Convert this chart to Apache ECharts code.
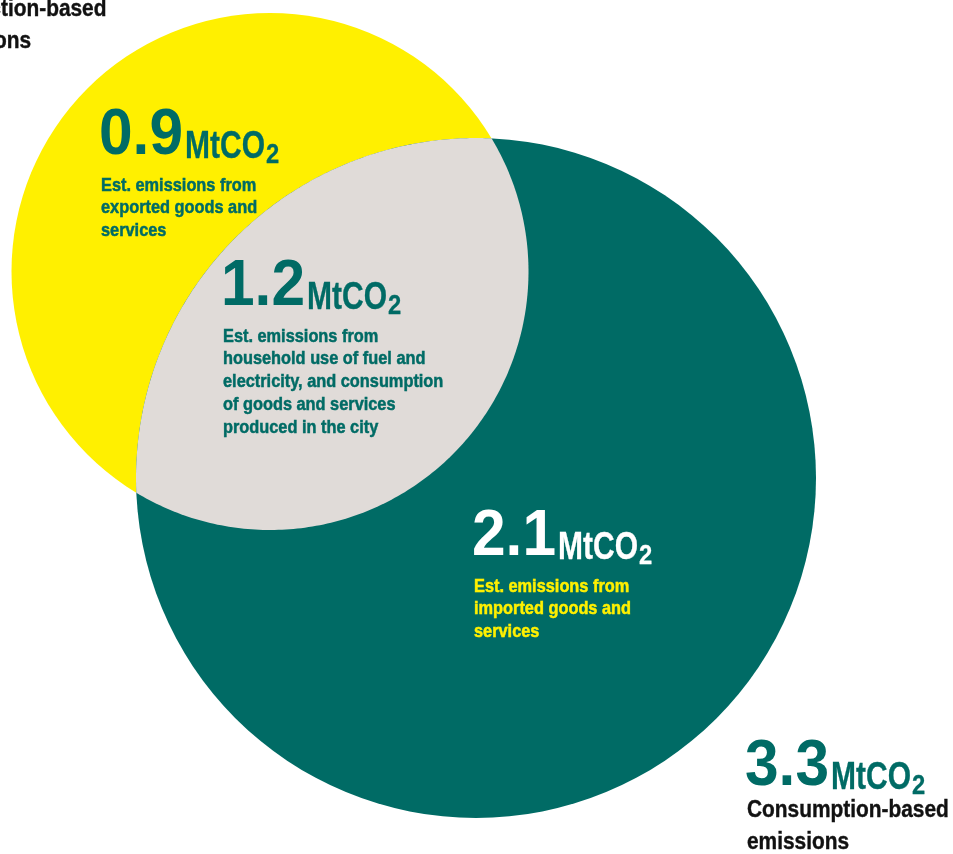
<!DOCTYPE html>
<html>
<head>
<meta charset="utf-8">
<script src="https://cdn.jsdelivr.net/npm/echarts@6/dist/echarts.min.js"></script>
<style>
  html, body { margin: 0; padding: 0; background: #ffffff; }
  #chart { width: 953px; height: 854px; }
</style>
</head>
<body>
<div id="chart"></div>
<script>
// City emissions totals, MtCO2
const setNames = ['Production-based emissions', 'Consumption-based emissions'];
const setValues = [2.1, 3.3];
const setDescriptions = [
  ['Production-based', 'emissions'],
  ['Consumption-based', 'emissions']
];

// Breakdown of the overlap, MtCO2
const regionNames = ['Exported', 'Local', 'Imported'];
const regionValues = [0.9, 1.2, 2.1];
const regionDescriptions = [
  ['Est. emissions from', 'exported goods and', 'services'],
  ['Est. emissions from', 'household use of fuel and', 'electricity, and consumption',
   'of goods and services', 'produced in the city'],
  ['Est. emissions from', 'imported goods and', 'services']
];

const unitText = 'MtCO';
const unitSub = '2';

// ---- layout (plot units: 1 unit = 1 px, y grows downward) ----
const circleLayout = [
  { cx: 270, cy: 271.5, r: 258.5 },   // production-based
  { cx: 476, cy: 478, r: 340 }        // consumption-based
];
const regionAnchors = [[99, 155], [221, 306], [472, 556]];   // x, number baseline
const setAnchors = [[-73, -15], [745, 786]];

// ---- styles ----
const YELLOW = '#fff000';
const TEAL = '#006b65';
const GREY = '#e0dbd8';
const FONT = "'Liberation Sans', Arial, sans-serif";
const setColors = [YELLOW, TEAL];
const regionNumberColors = [TEAL, TEAL, '#ffffff'];
const regionTextColors = [TEAL, TEAL, YELLOW];

// font sizes with horizontal squeeze to get a condensed face
const NUM = { fs: 65, sx: 0.93, sw: 0 };
const UNIT = { fs: 39, sx: 0.77, sw: 0.3 };
const SUB = { fs: 28, sx: 0.85, sw: 0.3 };
const DESC = { fs: 19, sx: 0.86, lh: 22.7, sw: 0.5 };
const SET_DESC = { fs: 24, sx: 0.87, lh: 32, sw: 0.4 };

const measureCtx = document.createElement('canvas').getContext('2d');
function textWidth(str, f) {
  measureCtx.font = 'bold ' + f.fs + 'px ' + FONT;
  return measureCtx.measureText(str).width * f.sx;
}

// text whose alphabetic baseline sits at y
function baselineText(str, x, y, f, color) {
  const style = {
    text: str,
    fill: color,
    fontFamily: FONT,
    fontWeight: 'bold',
    fontSize: f.fs,
    lineHeight: f.fs,
    align: 'left',
    verticalAlign: 'middle'
  };
  if (f.sw) {
    style.stroke = color;
    style.lineWidth = f.sw;
  }
  return {
    type: 'text',
    x: x,
    y: y - 0.29 * f.fs,
    scaleX: f.sx,
    style: style
  };
}

function valueLabel(pt, value, numColor, lines, descColor, descStyle, descGap) {
  const children = [];
  const numStr = value.toFixed(1);
  children.push(baselineText(numStr, pt[0], pt[1], NUM, numColor));
  const ux = pt[0] + textWidth(numStr, NUM) + 2;
  const ub = pt[1] + 4;
  children.push(baselineText(unitText, ux, ub, UNIT, numColor));
  const sx = ux + textWidth(unitText, UNIT) + 1;
  children.push(baselineText(unitSub, sx, ub + 4, SUB, numColor));
  lines.forEach(function (line, i) {
    children.push(baselineText(line, pt[0] + 2, pt[1] + descGap + i * descStyle.lh, descStyle, descColor));
  });
  return children;
}

const chart = echarts.init(document.getElementById('chart'), null, { renderer: 'canvas' });

chart.setOption({
  animation: false,
  backgroundColor: '#ffffff',
  grid: { left: 0, right: 0, top: 0, bottom: 0 },
  xAxis: { type: 'value', min: 0, max: 953, show: false },
  yAxis: { type: 'value', min: 0, max: 854, inverse: true, show: false },
  series: [
    {
      // the two emission totals as circles
      type: 'custom',
      name: 'sets',
      coordinateSystem: 'cartesian2d',
      clip: false,
      data: circleLayout.map(function (c, i) { return [c.cx, c.cy, c.r, setValues[i]]; }),
      renderItem: function (params, api) {
        const c = api.coord([api.value(0), api.value(1)]);
        const r = api.size([api.value(2), 0])[0];
        return {
          type: 'circle',
          shape: { cx: c[0], cy: c[1], r: r },
          style: { fill: setColors[params.dataIndex] }
        };
      }
    },
    {
      // overlap lens shared by both totals
      type: 'custom',
      name: 'overlap',
      coordinateSystem: 'cartesian2d',
      clip: false,
      data: [[regionValues[1]]],
      renderItem: function (params, api) {
        const A = circleLayout[0], B = circleLayout[1];
        const ca = api.coord([A.cx, A.cy]), cb = api.coord([B.cx, B.cy]);
        const ra = api.size([A.r, 0])[0], rb = api.size([B.r, 0])[0];
        const dx = cb[0] - ca[0], dy = cb[1] - ca[1];
        const d = Math.sqrt(dx * dx + dy * dy);
        const a = (ra * ra - rb * rb + d * d) / (2 * d);
        const alpha = Math.acos(Math.max(-1, Math.min(1, a / ra)));
        const beta = Math.acos(Math.max(-1, Math.min(1, (d - a) / rb)));
        const phiA = Math.atan2(dy, dx), phiB = phiA + Math.PI;
        const n = 180;
        const pts = [];
        for (let i = 0; i <= n; i++) {
          const t = phiA - alpha + (2 * alpha * i) / n;
          pts.push([ca[0] + ra * Math.cos(t), ca[1] + ra * Math.sin(t)]);
        }
        const bp = [];
        for (let i = 0; i <= n; i++) {
          const t = phiB - beta + (2 * beta * i) / n;
          bp.push([cb[0] + rb * Math.cos(t), cb[1] + rb * Math.sin(t)]);
        }
        const last = pts[pts.length - 1];
        const d0 = Math.hypot(bp[0][0] - last[0], bp[0][1] - last[1]);
        const d1 = Math.hypot(bp[n][0] - last[0], bp[n][1] - last[1]);
        if (d1 < d0) bp.reverse();
        return {
          type: 'polygon',
          shape: { points: pts.concat(bp) },
          style: { fill: GREY }
        };
      }
    },
    {
      // value labels for each region
      type: 'custom',
      name: 'regionLabels',
      coordinateSystem: 'cartesian2d',
      clip: false,
      z: 5,
      data: regionAnchors.map(function (p, i) { return [p[0], p[1], regionValues[i]]; }),
      renderItem: function (params, api) {
        const i = params.dataIndex;
        const pt = api.coord([api.value(0), api.value(1)]);
        return {
          type: 'group',
          children: valueLabel(pt, api.value(2), regionNumberColors[i],
            regionDescriptions[i], regionTextColors[i], DESC, 36)
        };
      }
    },
    {
      // totals beside each circle
      type: 'custom',
      name: 'setLabels',
      coordinateSystem: 'cartesian2d',
      clip: false,
      z: 5,
      data: setAnchors.map(function (p, i) { return [p[0], p[1], setValues[i]]; }),
      renderItem: function (params, api) {
        const i = params.dataIndex;
        const pt = api.coord([api.value(0), api.value(1)]);
        return {
          type: 'group',
          children: valueLabel(pt, api.value(2), TEAL,
            setDescriptions[i], '#111111', SET_DESC, 31)
        };
      }
    }
  ]
});
</script>
</body>
</html>
